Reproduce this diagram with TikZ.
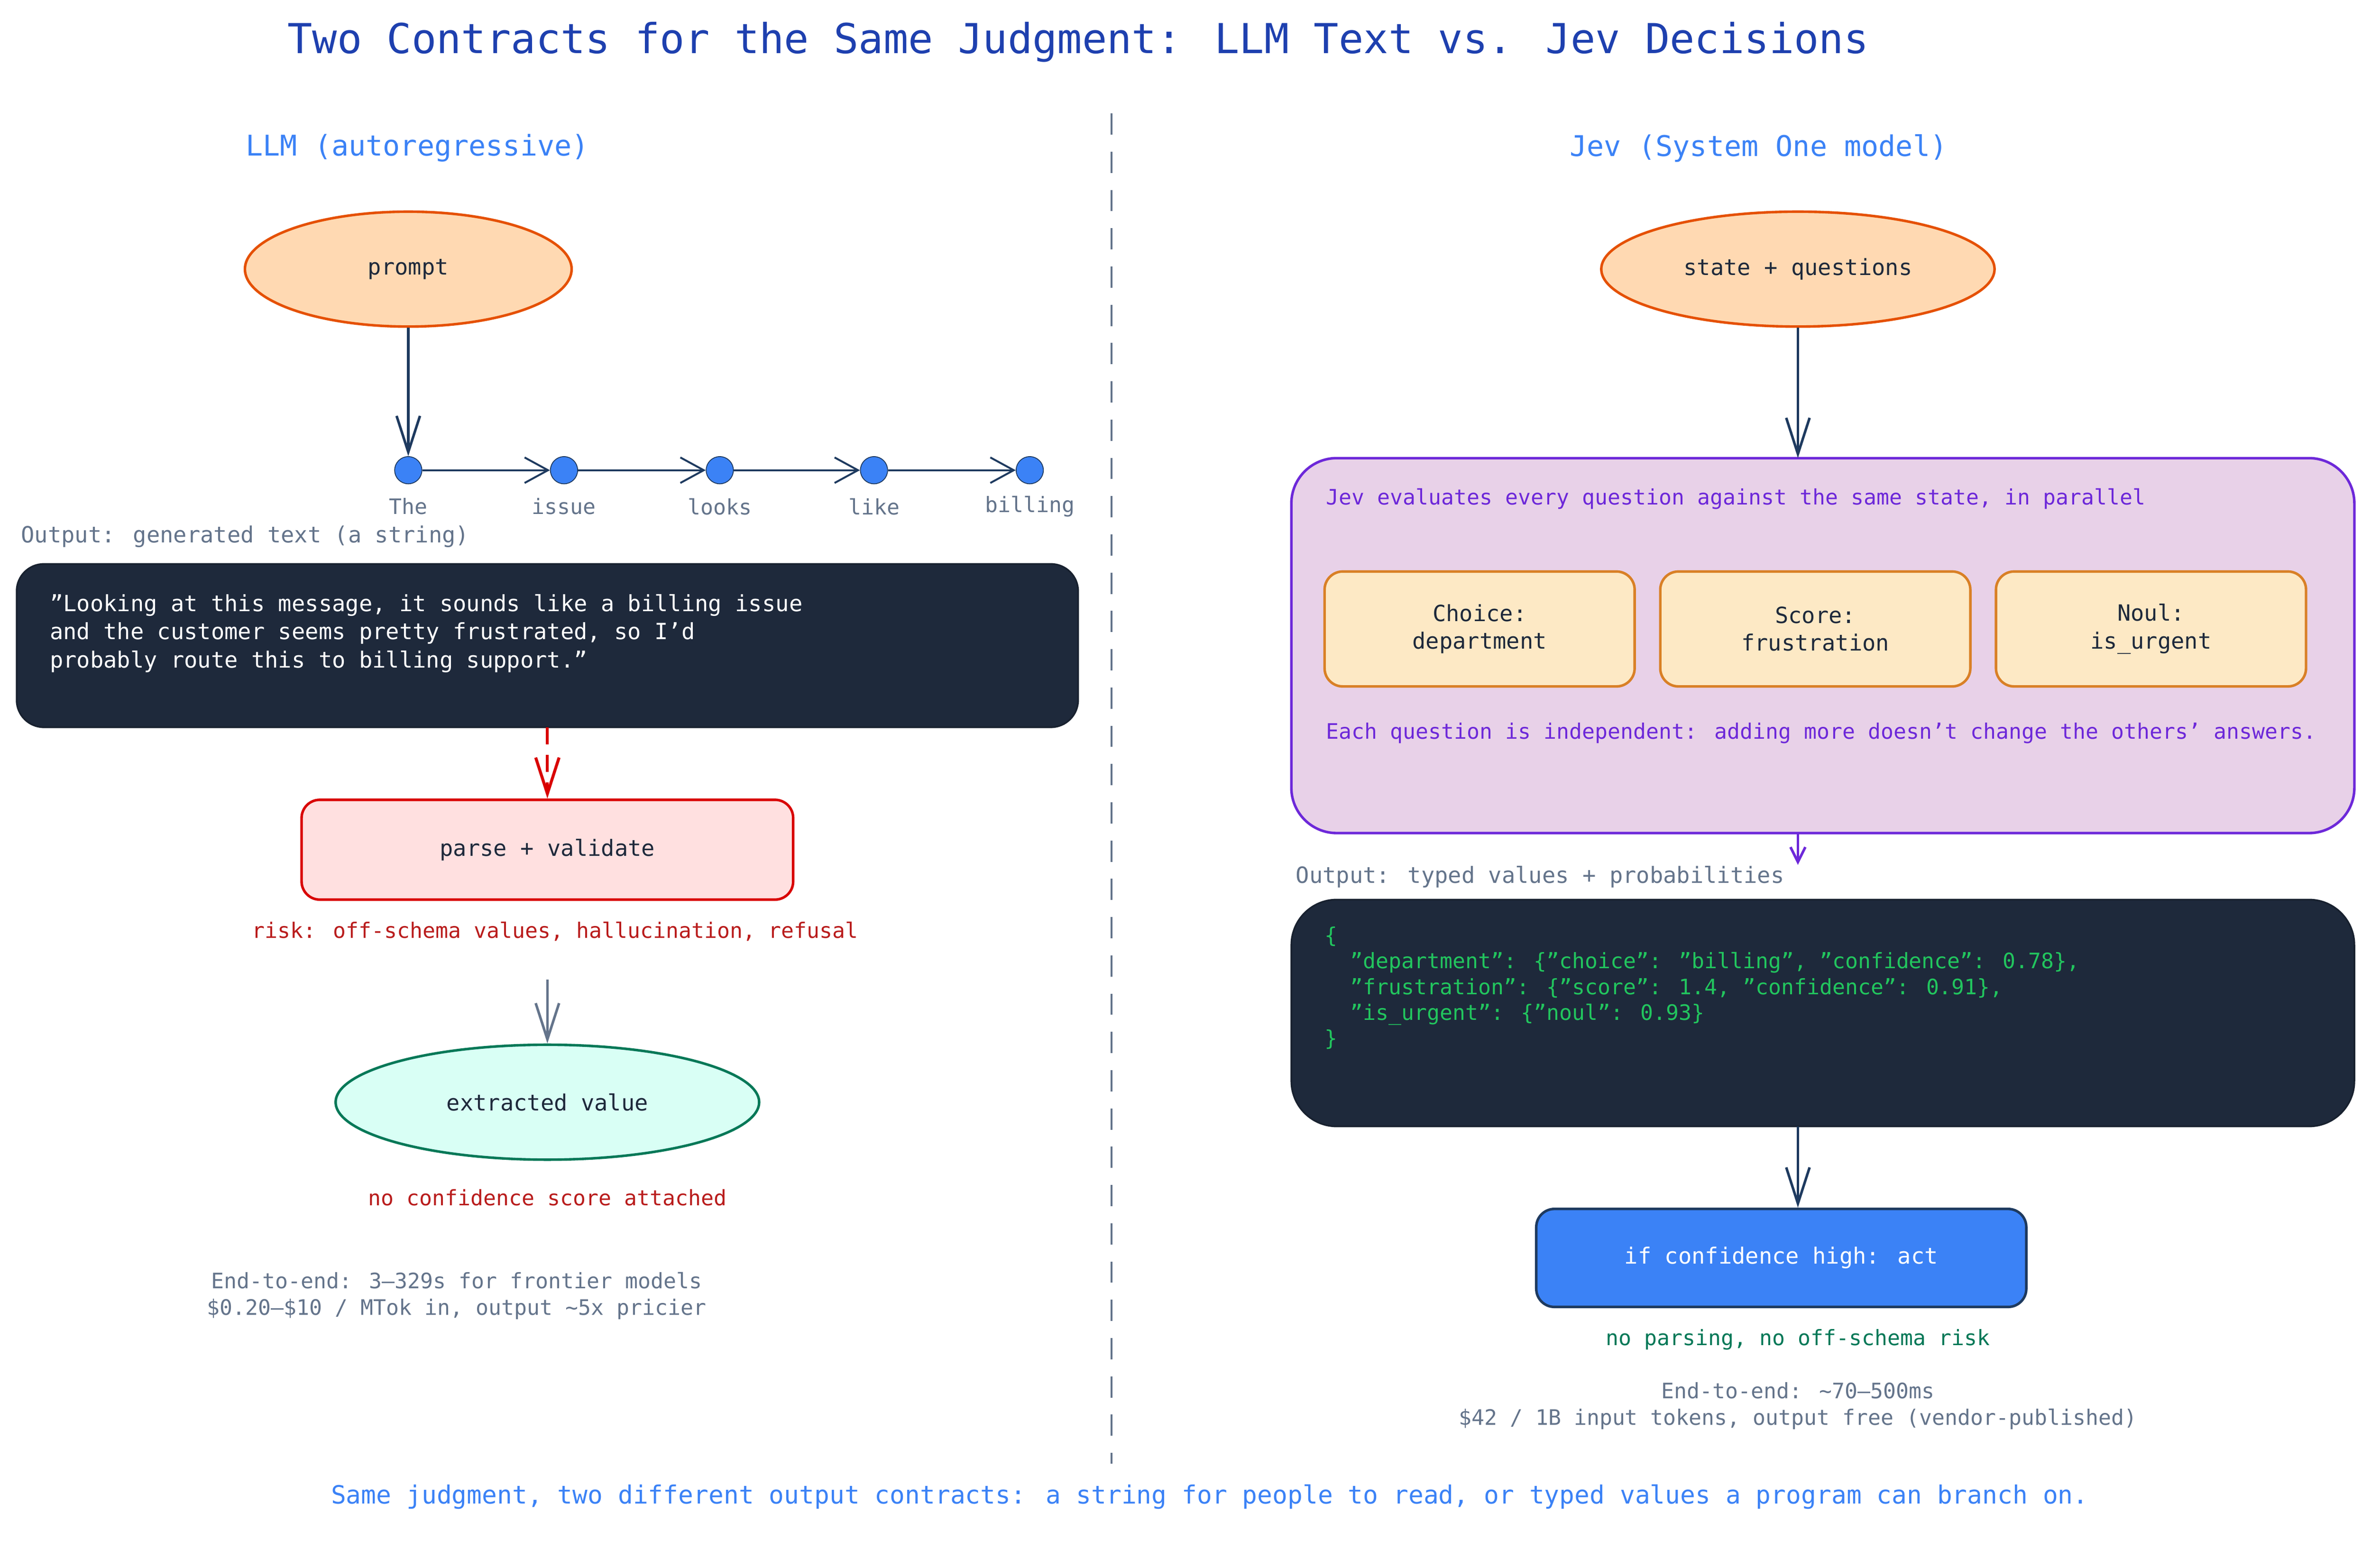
\documentclass[tikz,border=0pt]{standalone}
\usepackage{fontspec}
\setmainfont{DejaVu Sans Mono}
\usetikzlibrary{arrows.meta,positioning,shapes.geometric}
\definecolor{navy}{HTML}{1E3A5F}
\definecolor{darkbg}{HTML}{1E293B}
\definecolor{titleblue}{HTML}{1E40AF}
\definecolor{headblue}{HTML}{3B82F6}
\definecolor{slate}{HTML}{64748B}
\definecolor{riskred}{HTML}{B91C1C}
\definecolor{okgreen}{HTML}{047857}
\definecolor{codegreen}{HTML}{22C55E}
\definecolor{purp}{HTML}{6D28D9}
\begin{document}
\begin{tikzpicture}[x=0.025cm,y=-0.025cm,
	ovalnode/.style={ellipse,draw=orange!70!red!90!black,fill=orange!30!white,line width=1.2pt,font=\fontsize{10.5}{13}\selectfont,text=darkbg},
	tokennode/.style={circle,draw=navy,fill=headblue,minimum size=0.45cm,inner sep=0pt},
	tokenlabel/.style={font=\fontsize{10}{12}\selectfont,text=slate},
	darkbox/.style={rounded corners=0.45cm,draw=darkbg!80!black,fill=darkbg,line width=0.8pt},
	qbox/.style={rounded corners=0.3cm,draw=brown!60!orange,fill=yellow!20!orange!20!white,line width=1.2pt,align=center,minimum width=5.125cm,minimum height=1.9cm,font=\fontsize{10.5}{13}\selectfont,text=darkbg},
	note/.style={font=\fontsize{10}{12.5}\selectfont,align=center},
	flow/.style={->,>={Straight Barb[length=17pt,width=11pt]},navy,line width=1.2pt}]

	\useasboundingbox (0,0) rectangle (1568,1037);

	% titles
	\node (title) at (713,28) {\fontsize{19.4}{22}\selectfont\color{titleblue}Two Contracts for the Same Judgment: LLM Text vs. Jev Decisions};
	\node (llmhead) at (276,98) {\fontsize{13.4}{16}\selectfont\color{headblue}LLM (autoregressive)};
	\node (jevhead) at (1163,98) {\fontsize{13.4}{16}\selectfont\color{headblue}Jev (System One model)};
	\coordinate (divtop) at (735,75);
	\coordinate (divbot) at (735,968);
	\draw[slate,dashed,dash pattern=on 10pt off 8pt,line width=1pt] (divtop) -- (divbot);

	% left column
	\node [ovalnode,minimum width=5.4cm,minimum height=1.9cm] (prompt) at (270,178) {prompt};
	\node [tokennode] (t1) at (270,311) {};
	\node [tokennode] (t2) at (373,311) {};
	\node [tokennode] (t3) at (476,311) {};
	\node [tokennode] (t4) at (578,311) {};
	\node [tokennode] (t5) at (681,311) {};
	\foreach \n/\w in {t1/The,t2/issue,t3/looks,t4/like,t5/billing}
		\node [tokenlabel] at ([yshift=-0.6cm]\n) {\w};
	\draw [flow] (prompt) -- (t1);
	\foreach \a/\b in {t1/t2,t2/t3,t3/t4,t4/t5}
		\draw [->,>={Straight Barb[length=11pt,width=12pt]},navy,line width=0.9pt] (\a) -- (\b);

	\node [anchor=west,tokenlabel,font=\fontsize{10.5}{13}\selectfont] (llmout) at (9,355) {Output: generated text (a string)};
	\draw [darkbox] (11,373) rectangle (713,481);
	\node [anchor=north west,align=left,text=white,font=\fontsize{10.5}{13.3}\selectfont] (llmtext) at (28,388) {"Looking at this message, it sounds like a billing issue\\and the customer seems pretty frustrated, so I'd\\probably route this to billing support."};
	\coordinate (llmbot) at (362,481);

	\node [rounded corners=0.3cm,draw=red!85!black,fill=red!12!white,line width=1.2pt,minimum width=8.125cm,minimum height=1.65cm,font=\fontsize{10.5}{13}\selectfont,text=darkbg] (parse) at (362,562) {parse + validate};
	\draw [->,>={Straight Barb[length=17pt,width=11pt]},red!85!black,line width=1.4pt,dashed,dash pattern=on 8pt off 5pt] (llmbot) -- (parse);
	\node [note,text=riskred] (risk) at (367,616) {risk: off-schema values, hallucination, refusal};
	\coordinate (riskbot) at (362,648);
	\node [ellipse,draw=okgreen,fill=green!25!cyan!15!white,line width=1.2pt,minimum width=7cm,minimum height=1.9cm,font=\fontsize{10.5}{13}\selectfont,text=darkbg] (extract) at (362,729) {extracted value};
	\draw [->,>={Straight Barb[length=17pt,width=11pt]},slate,line width=1.2pt] (riskbot) -- (extract);
	\node [note,text=riskred] (noconf) at (362,792) {no confidence score attached};
	\node [note,text=slate] (llmcost) at (302,857) {End-to-end: 3--329s for frontier models\\\$0.20--\$10 / MTok in, output \textasciitilde5x pricier};

	% right column
	\node [ovalnode,minimum width=6.5cm,minimum height=1.9cm] (state) at (1189,178) {state + questions};
	\draw [rounded corners=0.75cm,draw=purp,fill=violet!18!white,line width=1.2pt] (854,303) rectangle (1557,551);
	\coordinate (jevtop) at (1189,303);
	\coordinate (jevbot) at (1189,551);
	\draw [flow] (state) -- (jevtop);
	\node [anchor=west,text=purp,font=\fontsize{10}{12.5}\selectfont] (jevline) at (872,330) {Jev evaluates every question against the same state, in parallel};
	\node [qbox] (q1) at (978.5,416) {Choice:\\department};
	\node [qbox] (q2) at (1200.5,416) {Score:\\frustration};
	\node [qbox] (q3) at (1422.5,416) {Noul:\\is\_urgent};
	\node [anchor=west,text=purp,font=\fontsize{10}{12.5}\selectfont] (indep) at (872,485) {Each question is independent: adding more doesn't change the others' answers.};

	\node [anchor=west,tokenlabel,font=\fontsize{10.5}{13}\selectfont] (jevout) at (852,580) {Output: typed values + probabilities};
	\coordinate (codetop) at (1189,572);
	\draw [->,>={Straight Barb[length=7pt,width=7pt]},purp,line width=1.2pt] (jevbot) -- (codetop);
	\draw [darkbox,rounded corners=0.75cm] (854,595) rectangle (1557,745);
	\node [anchor=north west,align=left,text=codegreen,font=\fontsize{10}{12.1}\selectfont] (code) at (871,608) {\{\\\ \ "department": \{"choice": "billing", "confidence": 0.78\},\\\ \ "frustration": \{"score": 1.4, "confidence": 0.91\},\\\ \ "is\_urgent": \{"noul": 0.93\}\\\}};
	\coordinate (codebot) at (1189,745);
	\node [rounded corners=0.3cm,draw=navy,fill=headblue,line width=1.2pt,minimum width=8.1cm,minimum height=1.62cm,text=white,font=\fontsize{10.5}{13}\selectfont] (act) at (1178,832) {if confidence high: act};
	\draw [flow] (codebot) -- (act.north -| codebot);
	\node [note,text=okgreen] (noparse) at (1189,886) {no parsing, no off-schema risk};
	\node [note,text=slate] (jevcost) at (1189,930) {End-to-end: \textasciitilde70--500ms\\\$42 / 1B input tokens, output free (vendor-published)};

	% footer
	\node (footer) at (800,990) {\fontsize{11.8}{14}\selectfont\color{headblue}Same judgment, two different output contracts: a string for people to read, or typed values a program can branch on.};
\end{tikzpicture}
\end{document}
